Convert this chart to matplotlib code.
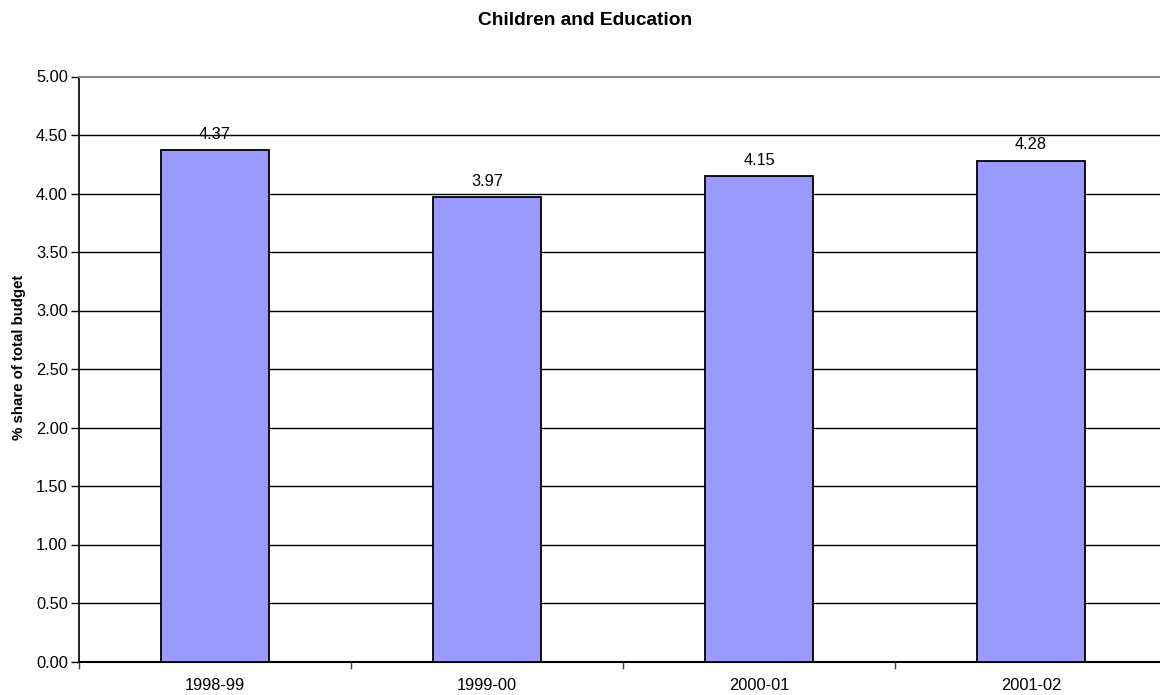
import numpy as np
import matplotlib
matplotlib.use('Agg')
from matplotlib import pyplot as plt

# 数据
years = ['1998-99', '1999-00', '2000-01', '2001-02']
share = [4.37, 3.97, 4.15, 4.28]
yticks = [0.0, 0.5, 1.0, 1.5, 2.0, 2.5, 3.0, 3.5, 4.0, 4.5, 5.0]

plt.rcParams['font.family'] = ['Liberation Sans', 'DejaVu Sans']
fs = 11.8

fig = plt.figure(figsize=(11.6, 6.95), dpi=100)
# 绘图区右边略超出画布
ax = fig.add_axes([79/1160, 33.5/695, 1088/1160, 585/695])

x = np.arange(len(years))
ax.bar(x, share, width=0.4, color='#9999FF', edgecolor='black', linewidth=1.3, zorder=3)
for xi, v in zip(x, share):
    ax.annotate('%.2f' % v, (xi, v), xytext=(0, 6), textcoords='offset points',
                ha='center', va='bottom', fontsize=fs)

ax.set_xlim(-0.5, len(years) - 0.5)
ax.set_ylim(0, 5)
ax.set_yticks(yticks)
ax.set_yticklabels(['%.2f' % t for t in yticks], fontsize=fs)
ax.set_xticks(x)
ax.set_xticklabels(years, fontsize=fs)
ax.set_xticks(np.arange(len(years) + 1) - 0.5, minor=True)
ax.tick_params(axis='x', which='major', length=0, pad=12)
ax.tick_params(axis='x', which='minor', length=5, width=1, color='#444444', direction='out')
ax.tick_params(axis='y', length=6, width=1, direction='out', pad=2)

# 网格线
for t in yticks[1:-1]:
    ax.axhline(t, color='black', linewidth=1, zorder=1)
ax.spines['top'].set_color('#888888')
ax.spines['top'].set_linewidth(1.5)
ax.spines['right'].set_visible(False)
ax.spines['left'].set_linewidth(1.2)
ax.spines['bottom'].set_linewidth(1.5)

ax.set_ylabel('% share of total budget', fontsize=10.8, fontweight='bold')
ax.yaxis.set_label_coords(-53/1088, 0.52)
fig.text(585/1160, 1 - 20.5/695, 'Children and Education', ha='center', va='center',
         fontsize=13.8, fontweight='bold')

fig.savefig('out.png', dpi=100)
